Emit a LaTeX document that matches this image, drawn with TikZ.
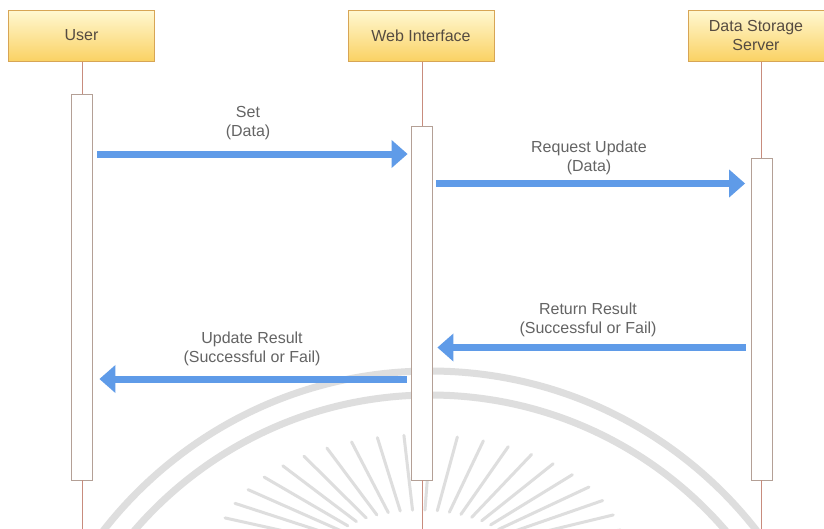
\documentclass[tikz,border=0pt]{standalone}
\usepackage{fontspec}
\setmainfont{Liberation Sans}
\usetikzlibrary{arrows.meta,calc}
\definecolor{hdrtop}{RGB}{255,248,210}
\definecolor{hdrbot}{RGB}{250,210,100}
\definecolor{hdrline}{RGB}{215,165,85}
\definecolor{lifecol}{RGB}{200,140,125}
\definecolor{actline}{RGB}{180,160,150}
\definecolor{msgblue}{RGB}{95,155,232}
\definecolor{labelcol}{RGB}{100,100,100}
\definecolor{hdrtext}{RGB}{85,75,65}
\definecolor{wmark}{RGB}{222,222,222}
\begin{document}
\begin{tikzpicture}[x=1pt,y=-1pt,
  header/.style={draw=hdrline, line width=1pt, top color=hdrtop, bottom color=hdrbot, minimum height=51pt, inner sep=0pt, align=center, text=hdrtext, font=\fontsize{16}{19}\selectfont},
  activation/.style={draw=actline, line width=0.8pt, fill=white, minimum width=21pt, inner sep=0pt},
  lifeline/.style={draw=lifecol, line width=0.8pt},
  message/.style={draw=msgblue, line width=7pt, -{Triangle[length=16pt,width=27pt]}},
  msglabel/.style={text=labelcol, align=center, font=\fontsize{16}{19.5}\selectfont},
  wm/.style={draw=wmark, line width=7pt},
  wmray/.style={draw=wmark, line width=3pt, line cap=round}
]
\fill[white] (0,0) rectangle (824,528);
\useasboundingbox (0,0) rectangle (824,528);
% faint watermark
\begin{scope}
\clip (0,0) rectangle (824,528);
\draw[wm] (430,785) circle[radius=414];
\draw[wm] (430,785) circle[radius=390];
\foreach \a in {12,19.5,...,168} {
  \draw[wmray] ({420+95*cos(\a)},{555-45*sin(\a)}) -- ({420+205*cos(\a)},{555-120*sin(\a)});
}
\end{scope}
% headers
\node[header, minimum width=146pt] (user) at (81.5,35.5) {User};
\node[header, minimum width=146pt] (web) at (421,35.5) {Web Interface};
\node[header, minimum width=136pt] (dss) at (756,35.5) {Data Storage\\Server};
% activations
\node[activation, minimum height=386pt] (a1) at (82,287) {};
\node[activation, minimum height=354pt] (a2) at (422,303) {};
\node[activation, minimum height=322pt] (a3) at (761.5,319) {};
% lifelines
\coordinate (bottom) at (0,530);
\draw[lifeline] (user.south -| a1.north) -- (a1.north);
\draw[lifeline] (web.south -| a2.north) -- (a2.north);
\draw[lifeline] (dss.south -| a3.north) -- (a3.north);
\draw[lifeline] (a1.south) -- (a1.south |- bottom);
\draw[lifeline] (a2.south) -- (a2.south |- bottom);
\draw[lifeline] (a3.south) -- (a3.south |- bottom);
% message levels
\coordinate (y1) at (0,154);
\coordinate (y2) at (0,183.5);
\coordinate (y3) at (0,347.5);
\coordinate (y4) at (0,379);
\draw[message] ($(a1.east |- y1)+(4.5,0)$) -- ($(a2.west |- y1)+(-3.5,0)$);
\draw[message] ($(a2.east |- y2)+(3,0)$) -- ($(a3.west |- y2)+(-5.5,0)$);
\draw[message] ($(a3.west |- y3)+(-5,0)$) -- ($(a2.east |- y3)+(4.5,0)$);
\draw[message] ($(a2.west |- y4)+(-4.5,0)$) -- ($(a1.east |- y4)+(6.5,0)$);
% labels
\node[msglabel] (l1) at (248,123) {Set\\(Data)};
\node[msglabel] (l2) at (589,158) {Request Update\\(Data)};
\node[msglabel] (l3) at (588,320) {Return Result\\(Successful or Fail)};
\node[msglabel] (l4) at (252,349) {Update Result\\(Successful or Fail)};
\end{tikzpicture}
\end{document}
